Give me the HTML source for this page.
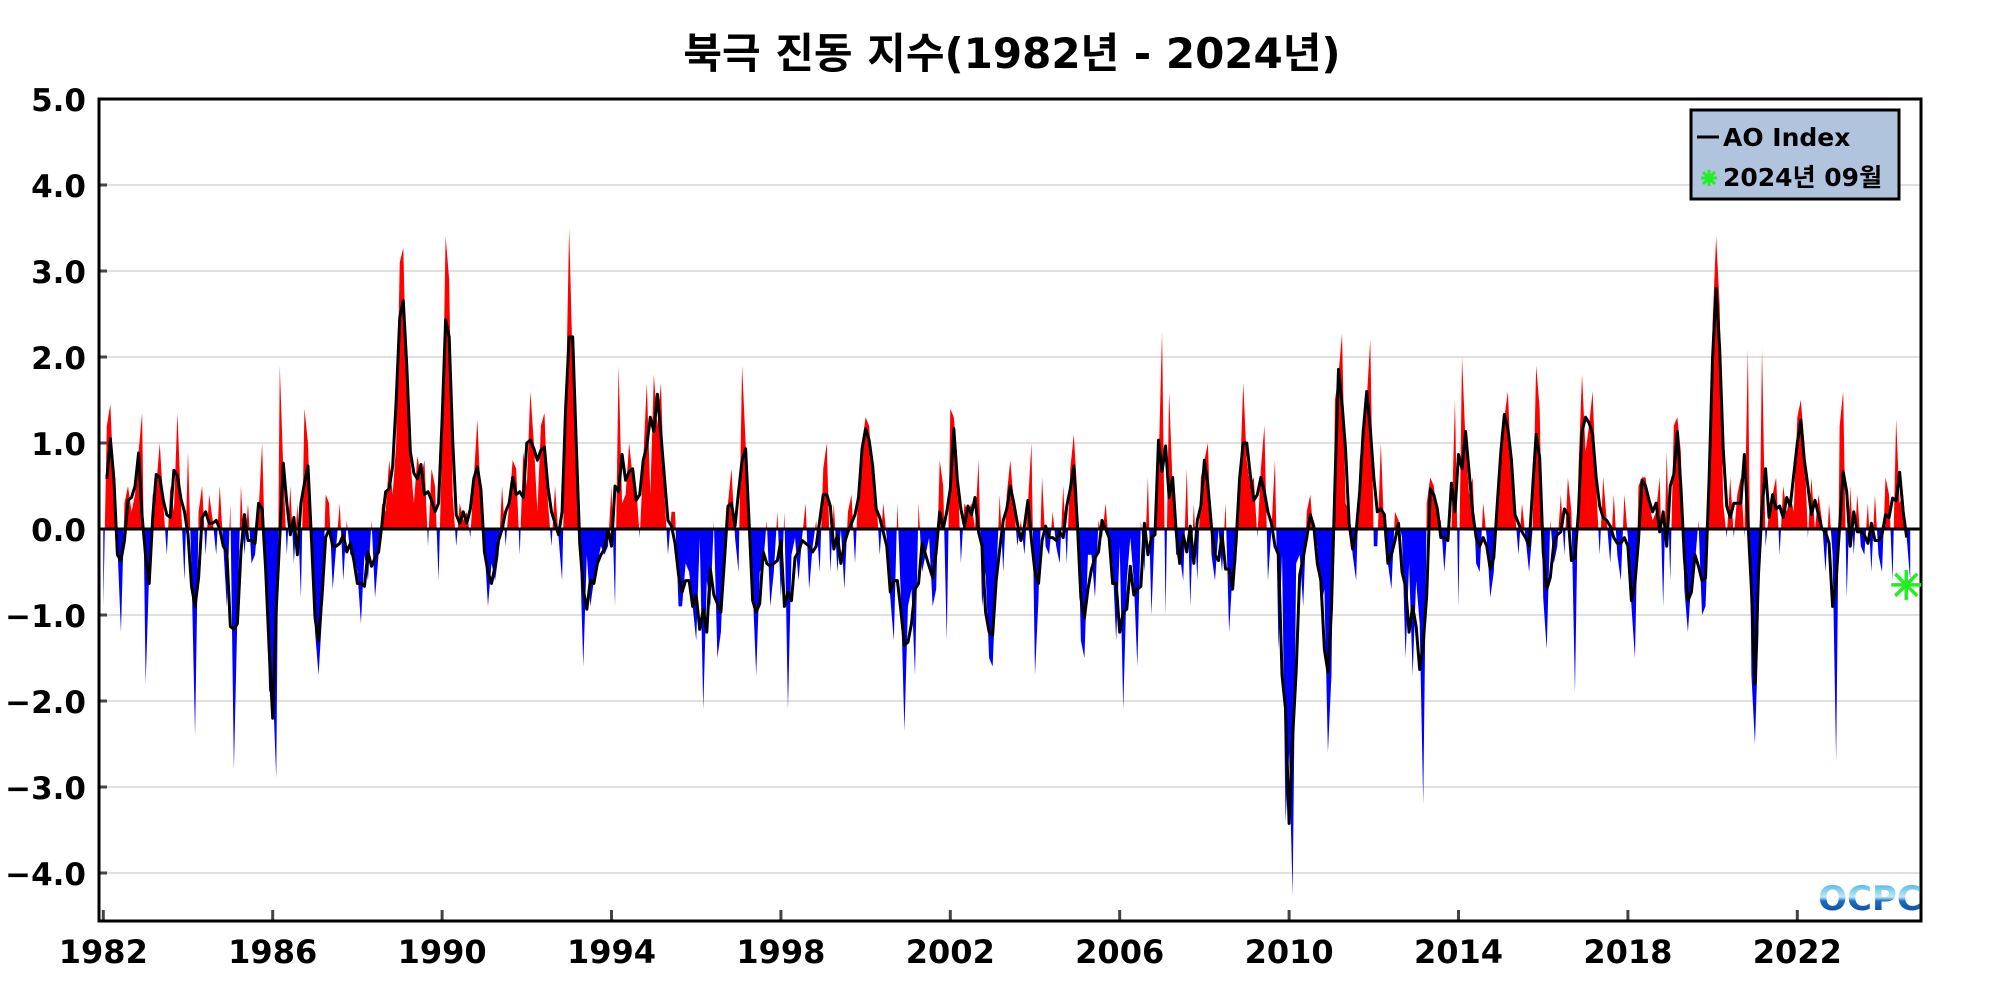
<!DOCTYPE html>
<html><head><meta charset="utf-8">
<style>
html,body{margin:0;padding:0;background:#fff;}
svg{display:block;}
.yl{font-family:"DejaVu Sans","Liberation Sans",sans-serif;font-weight:bold;font-size:31px;}
.xl{font-family:"DejaVu Sans","Liberation Sans",sans-serif;font-weight:bold;font-size:32px;}
</style></head>
<body>
<svg id="chart" width="2000" height="1000" viewBox="0 0 2000 1000">
<defs>
<clipPath id="clipPos"><rect x="99" y="99" width="1822" height="430"/></clipPath>
<clipPath id="clipNeg"><rect x="99" y="529" width="1822" height="392"/></clipPath>
<linearGradient id="logoGrad" x1="0" y1="0" x2="0" y2="1">
<stop offset="0" stop-color="#2aa8dc"/><stop offset="0.45" stop-color="#bfe8f6"/><stop offset="0.55" stop-color="#1a6fc0"/><stop offset="1" stop-color="#083a94"/>
</linearGradient>
</defs>
<text x="1012" y="68" text-anchor="middle" font-family="'DejaVu Sans','Noto Sans CJK KR',sans-serif" font-weight="bold" font-size="42">북극 진동 지수(1982년 - 2024년)</text>
<g id="grid"></g>
<g id="yaxis"></g>
<g id="xaxis"></g>
<g id="series"></g>
<rect x="99" y="99" width="1822" height="822" fill="none" stroke="#000" stroke-width="3"/>
<text x="1870" y="910" text-anchor="middle" font-family="'DejaVu Sans',sans-serif" font-weight="bold" font-size="34" fill="url(#logoGrad)">OCPC</text>
<g>
<rect x="1691" y="110" width="208" height="89" fill="#b0c4de" stroke="#000" stroke-width="3"/>
<line x1="1697" y1="137" x2="1719" y2="137" stroke="#000" stroke-width="3"/>
<text x="1723" y="146" font-family="'DejaVu Sans',sans-serif" font-weight="bold" font-size="25">AO Index</text>
<g stroke="#22ee22" stroke-width="3">
<line x1="1709" y1="170" x2="1709" y2="186"/><line x1="1701" y1="178" x2="1717" y2="178"/>
<line x1="1703" y1="172" x2="1715" y2="184"/><line x1="1715" y1="172" x2="1703" y2="184"/>
</g>
<text x="1723" y="186" font-family="'DejaVu Sans','Noto Sans CJK KR',sans-serif" font-weight="bold" font-size="25">2024년 09월</text>
</g>
</svg>
<script>
const startYear = 1982;
const yTicks = [5,4,3,2,1,0,-1,-2,-3,-4];
const yTickLabels = ["5.0","4.0","3.0","2.0","1.0","0.0","\u22121.0","\u22122.0","\u22123.0","\u22124.0"];
const xTickYears = [1982,1986,1990,1994,1998,2002,2006,2010,2014,2018,2022];
const aoValues = [
-0.9,1.2,1.45,0.5,-0.2,-1.2,0.3,0.5,0.2,0.4,0.9,1.35,
-1.8,-0.5,0.4,0.5,1.0,0.3,-0.3,0.5,0.2,1.35,0.3,-0.6,
0.9,-0.5,-2.4,0.2,0.5,-0.3,0.4,0.1,-0.3,0.5,-0.2,-0.9,
0.3,-2.8,-1.0,0.5,-0.3,0.3,-0.4,-0.3,0.2,1.0,-0.5,-1.9,
-1.8,-2.9,1.9,0.7,-0.3,0.5,-0.4,0.3,-0.8,1.4,1.0,-0.2,
-1.2,-1.7,-1.0,0.4,0.3,-0.7,-0.2,0.3,-0.6,0.1,-0.3,-0.3,
-0.5,-1.1,-0.3,-0.6,0.1,-0.8,-0.3,0.3,0.2,0.8,0.4,1.0,
3.1,3.27,1.6,0.8,0.3,0.85,0.6,0.8,-0.2,0.7,0.5,-0.6,
1.0,3.4,2.9,0.4,-0.2,0.3,0.1,0.2,-0.1,0.6,1.27,0.3,
-0.2,-0.9,-0.4,-0.6,-0.3,0.5,-0.2,0.3,0.8,0.7,-0.3,0.9,
0.5,1.6,1.0,0.2,1.2,1.35,0.3,-0.2,0.5,-0.1,-0.6,1.3,
3.5,1.9,1.3,-0.2,-1.6,-0.3,-0.9,-0.6,-0.4,-0.2,-0.3,-0.2,
0.5,-0.9,1.9,0.3,0.4,1.0,0.6,0.5,-0.1,0.8,1.7,0.4,
1.8,1.2,1.7,0.4,-0.3,0.2,0.2,-0.9,-0.9,-0.4,-0.5,-0.9,
-1.3,-0.1,-2.1,-0.6,-0.9,0.1,-1.5,-1.2,-0.2,0.3,0.7,-0.1,
-0.5,1.9,1.0,-0.1,-0.7,-1.7,-0.5,-0.4,0.1,-0.9,-0.5,0.2,
-0.8,0.2,-2.1,-0.3,-0.1,-0.6,-0.1,0.3,-0.7,-0.2,0.1,-0.5,
0.7,1.0,-0.5,0.3,-0.5,0.0,-0.7,0.2,0.4,-0.4,0.5,1.0,
1.3,1.2,0.6,0.4,-0.3,0.3,-0.1,-0.8,-1.3,0.3,-0.8,-2.35,
-0.9,-0.7,-1.7,0.3,-0.5,-0.3,-0.1,-0.9,-0.7,0.8,0.5,-1.3,
1.4,1.3,0.8,-0.4,0.3,0.2,0.3,0.0,0.8,-0.9,-0.5,-1.5,
-1.6,-0.6,0.4,-0.5,0.4,0.8,0.3,-0.2,0.1,-0.3,0.3,1.0,
-1.7,-0.8,0.6,-0.2,-0.3,0.2,-0.2,-0.4,0.5,-0.4,0.7,1.1,
0.4,-1.3,-1.5,-0.3,-0.3,-0.8,0.1,-0.1,0.3,-0.2,-0.4,-1.3,
-0.2,-2.1,-0.6,-0.1,-0.6,-1.6,0.1,-0.5,0.6,-1.0,0.1,0.7,
2.3,-1.0,1.6,0.5,-0.3,-0.3,-0.6,0.7,-0.9,0.3,-0.6,0.6,
0.8,1.0,-0.3,-0.6,0.0,-0.5,0.3,-1.2,-0.5,-0.4,0.5,1.7,
0.8,0.5,0.6,-0.1,0.7,1.2,-0.6,0.0,0.8,-1.4,-0.3,-3.4,
-2.6,-4.27,-0.4,-0.3,-0.9,0.2,0.4,-0.1,-0.2,-0.9,-0.7,-2.6,
-1.7,1.5,1.8,2.27,0.3,0.2,-0.3,-0.6,0.8,1.1,1.5,2.2,
-0.2,-0.2,1.0,-0.1,-0.4,-0.7,0.2,0.1,-0.1,-1.5,-0.4,-1.7,
-0.6,-1.1,-3.2,0.3,0.6,0.5,0.1,0.1,-0.5,0.1,0.0,1.5,
-0.9,2.0,1.0,0.4,0.6,-0.4,-0.5,0.3,-0.1,-0.8,-0.5,0.3,
1.1,1.3,1.6,0.6,0.2,-0.3,0.3,-0.1,-0.5,0.0,1.9,1.4,
-0.8,-1.4,0.1,-0.4,-0.2,0.4,-0.3,0.6,0.2,-1.9,0.7,1.8,
0.9,1.2,1.6,0.5,-0.3,0.6,0.1,-0.4,0.4,-0.3,-0.6,0.4,
-0.1,-0.9,-1.5,0.5,0.6,0.6,0.3,0.1,0.2,0.6,-0.9,0.9,
-0.6,1.2,1.3,0.9,-0.7,-1.2,-0.6,-0.4,0.1,-1.0,-0.9,0.2,
2.4,3.4,2.6,0.3,-0.1,0.6,-0.1,0.4,0.6,-0.1,2.1,-1.7,
-2.5,-1.2,2.1,-0.2,0.2,0.4,0.6,-0.3,0.5,0.2,0.4,0.2,
1.3,1.5,1.0,-0.1,0.6,0.0,0.4,0.1,-0.5,0.3,-0.3,-2.7,
1.2,1.6,-0.8,0.5,-0.3,0.4,-0.2,-0.3,0.3,-0.5,0.4,-0.3,
-0.5,0.6,0.4,-0.6,1.28,0.3,0.4,-0.1,-0.6
];
const latestValue = [-0.65];

const NS = "http://www.w3.org/2000/svg";
const X0 = 103.3, PXY = 42.35, Y0 = 529, PXU = 86;
function xOf(i){ return X0 + i * PXY / 12; }
function xYear(y){ return X0 + (y - startYear) * PXY; }
function yOf(v){ return Y0 - v * PXU; }
function mk(tag, attrs, parent){ const e = document.createElementNS(NS, tag); for (const k in attrs) e.setAttribute(k, attrs[k]); parent.appendChild(e); return e; }

const grid = document.getElementById('grid');
const yaxis = document.getElementById('yaxis');
const xaxis = document.getElementById('xaxis');
const series = document.getElementById('series');

yTicks.forEach((v, i) => {
  const y = yOf(v);
  if (v !== 5 && v !== 0) {
    const g = mk('line', {x1: 99, x2: 1921, y1: y, y2: y, stroke: '#d6d6d6', 'stroke-width': 1.5}, grid);
    
    
    const t = mk('line', {x1: 99, x2: 107, y1: y, y2: y, stroke: '#444', 'stroke-width': 3}, yaxis);
    
    
  }
  const lab = mk('text', {x: 86, y: y + 12, 'text-anchor': 'end', class: 'yl'}, yaxis);
  lab.textContent = yTickLabels[i];
  
  
});

xTickYears.forEach(yr => {
  const x = xYear(yr);
  const t = mk('line', {x1: x, x2: x, y1: 910, y2: 920, stroke: '#444', 'stroke-width': 3}, xaxis);
  
  
  const lab = mk('text', {x: x, y: 963, 'text-anchor': 'middle', class: 'xl'}, xaxis);
  lab.textContent = yr;
  
  
});

let d = 'M' + xOf(0) + ',' + Y0;
aoValues.forEach((v, i) => { d += ' L' + xOf(i).toFixed(2) + ',' + yOf(v).toFixed(2); });
d += ' L' + xOf(aoValues.length - 1).toFixed(2) + ',' + Y0 + ' Z';
const pos = mk('path', {d: d, fill: '#ff0000', 'clip-path': 'url(#clipPos)'}, series);


const neg = mk('path', {d: d, fill: '#0000ff', 'clip-path': 'url(#clipNeg)'}, series);



const zl = mk('line', {x1: 99, x2: 1921, y1: Y0, y2: Y0, stroke: '#000', 'stroke-width': 3}, series);



let ld = '';
for (let i = 1; i < aoValues.length - 1; i++) {
  const m = (aoValues[i - 1] + aoValues[i] + aoValues[i + 1]) / 3;
  ld += (i === 1 ? 'M' : ' L') + xOf(i).toFixed(2) + ',' + yOf(m).toFixed(2);
}
const line = mk('path', {d: ld, fill: 'none', stroke: '#000', 'stroke-width': 3, 'stroke-linejoin': 'round'}, series);



const sx = xOf(aoValues.length - 1) - 4, sy = yOf(latestValue[0]);
const star = mk('g', {stroke: '#22ee22', 'stroke-width': 3.5}, document.getElementById('chart'));


mk('line', {x1: sx, y1: sy - 15, x2: sx, y2: sy + 15}, star);
mk('line', {x1: sx - 15, y1: sy, x2: sx + 15, y2: sy}, star);
mk('line', {x1: sx - 11, y1: sy - 11, x2: sx + 11, y2: sy + 11}, star);
mk('line', {x1: sx + 11, y1: sy - 11, x2: sx - 11, y2: sy + 11}, star);
</script>
</body></html>
